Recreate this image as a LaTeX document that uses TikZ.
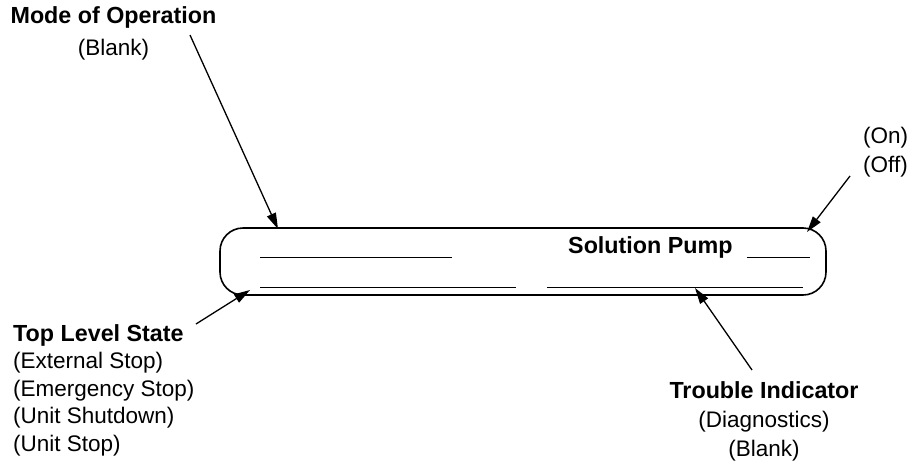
\documentclass[tikz,border=0pt]{standalone}
\usepackage{fontspec}
\setmainfont{Liberation Sans}
\usetikzlibrary{arrows.meta}

\newcommand{\heading}[1]{{\fontsize{23.3}{27}\selectfont\bfseries #1}}

\begin{document}
\begin{tikzpicture}[x=1pt, y=-1pt,
    note/.style={inner sep=0pt, font=\fontsize{22.5}{27.5}\selectfont},
    pointer/.style={-{Triangle[length=16pt, width=9.5pt]}, line width=1.3pt},
    blank/.style={line width=1pt}]
    \useasboundingbox (0,0) rectangle (912,466);

    \node[draw, line width=1.6pt, rounded corners=23pt, minimum width=606pt, minimum height=67pt, inner sep=0pt] (panel) at (523,261.5) {};
    \node[note, anchor=base west] (pump) at (568,253) {\heading{Solution Pump}};

    \draw[blank] (260,257) -- (452,257);
    \draw[blank] (747,257) -- (810,257);
    \draw[blank] (260,287) -- (516,287);
    \draw[blank] (547,287) -- (803,287);

    \node[note, align=center, anchor=base] (mode) at (113.5,55) {\heading{Mode of Operation}\\[4.5pt](Blank)};
    \node[note, align=center, anchor=base] (onoff) at (885.5,172) {(On)\\[1.5pt](Off)};
    \node[note, align=left, anchor=base west] (toplevel) at (13,451) {\heading{Top Level State}\\(External Stop)\\(Emergency Stop)\\(Unit Shutdown)\\(Unit Stop)};
    \node[note, align=center, anchor=base] (trouble) at (764,456) {\heading{Trouble Indicator}\\[1.5pt](Diagnostics)\\[1.5pt](Blank)};

    \coordinate (mode-from) at (190,35);
    \coordinate (mode-to) at (278,229);
    \coordinate (onoff-from) at (850,176);
    \coordinate (onoff-to) at (807,232);
    \coordinate (toplevel-from) at (196,324);
    \coordinate (toplevel-to) at (250,290);
    \coordinate (trouble-from) at (752,370);
    \coordinate (trouble-to) at (695,288);

    \draw[pointer] (mode-from) -- (mode-to);
    \draw[pointer] (onoff-from) -- (onoff-to);
    \draw[pointer] (toplevel-from) -- (toplevel-to);
    \draw[pointer] (trouble-from) -- (trouble-to);
\end{tikzpicture}
\end{document}
